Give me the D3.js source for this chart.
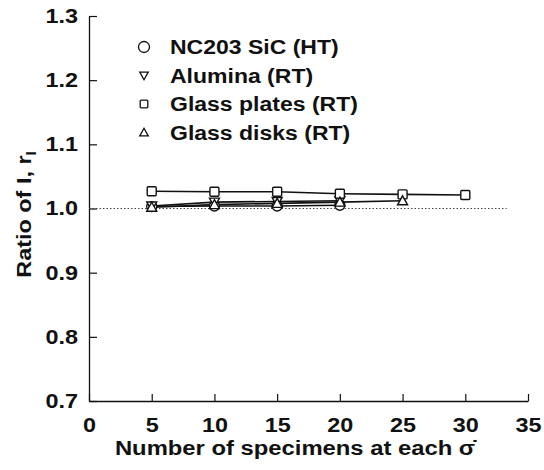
<!DOCTYPE html>
<html><head><meta charset="utf-8">
<script src="https://cdn.jsdelivr.net/npm/d3@7"></script>
<style>body{margin:0;background:#fff}svg{display:block}text{font-family:"Liberation Sans",Arial,Helvetica,sans-serif;font-weight:bold;fill:#111}</style>
</head><body><svg id="c" width="544" height="470"></svg>
<script>
const xTicks = [0,5,10,15,20,25,30,35];
const yTicks = [0.7,0.8,0.9,1.0,1.1,1.2,1.3];
const seriesNames = ["NC203 SiC (HT)","Alumina (RT)","Glass plates (RT)","Glass disks (RT)"];
const seriesSymbols = ["circle","triangleDown","square","triangleUp"];
const nc203X = [5,10,15,20];
const nc203Y = [1.003,1.004,1.004,1.005];
const aluminaX = [5,10,15,20];
const aluminaY = [1.004,1.010,1.011,1.012];
const platesX = [5,10,15,20,25,30];
const platesY = [1.027,1.026,1.026,1.023,1.022,1.021];
const disksX = [5,10,15,20,25];
const disksY = [1.002,1.006,1.008,1.010,1.012];
const refLineX = [0,33.3];
const refLineY = [1.0,1.0];

const svg = d3.select("#c");
const L=89,R=528,T=16,B=401;
const x = d3.scaleLinear().domain([0,35]).range([L,R]);
const y = d3.scaleLinear().domain([0.7,1.3]).range([B,T]);

function widen(sel, f){
  sel.each(function(){
    const len = this.getComputedTextLength();
    d3.select(this).attr("textLength", len*f).attr("lengthAdjust","spacingAndGlyphs");
  });
}

// axes
const xa = svg.append("g").attr("transform",`translate(0,${B})`)
  .call(d3.axisBottom(x).tickValues(xTicks).tickSizeInner(-7).tickSizeOuter(0).tickPadding(17).tickFormat(d3.format("d")));
const ya = svg.append("g").attr("transform",`translate(${L},0)`)
  .call(d3.axisLeft(y).tickValues(yTicks).tickSizeInner(-8).tickSizeOuter(0).tickPadding(11).tickFormat(d3.format(".1f")));
[xa,ya].forEach(a=>{
  a.selectAll("path").attr("stroke","#111").attr("stroke-width",1.3);
  a.selectAll("line").attr("stroke","#111").attr("stroke-width",1.2);
  a.selectAll("text").style("font-size","20px").attr("fill","#111");
  widen(a.selectAll("text"),1.17);
});

// reference dotted line
svg.append("path").datum(refLineX.map((v,i)=>[v,refLineY[i]]))
  .attr("d",d3.line().x(d=>x(d[0])).y(d=>y(d[1])))
  .attr("fill","none").attr("stroke","#444").attr("stroke-width",1).attr("stroke-dasharray","1.5,2");

const series = [
  {xs:nc203X, ys:nc203Y, sym:seriesSymbols[0]},
  {xs:aluminaX, ys:aluminaY, sym:seriesSymbols[1]},
  {xs:platesX, ys:platesY, sym:seriesSymbols[2]},
  {xs:disksX, ys:disksY, sym:seriesSymbols[3]}
];
function drawSym(g, sym, cx, cy, s){
  if(sym==="circle") g.append("circle").attr("cx",cx).attr("cy",cy).attr("r",5*s);
  else if(sym==="square") g.append("rect").attr("x",cx-4.5*s).attr("y",cy-4.5*s).attr("width",9*s).attr("height",9*s).attr("rx",1);
  else if(sym==="triangleUp") g.append("path").attr("d",`M${cx},${cy-5*s}L${cx+5*s},${cy+4*s}L${cx-5*s},${cy+4*s}Z`);
  else g.append("path").attr("d",`M${cx},${cy+5*s}L${cx+5*s},${cy-4*s}L${cx-5*s},${cy-4*s}Z`);
}
const line = d3.line().x(d=>x(d[0])).y(d=>y(d[1]));
series.forEach(s=>{
  const pts = s.xs.map((v,i)=>[v,s.ys[i]]);
  svg.append("path").datum(pts).attr("d",line).attr("fill","none").attr("stroke","#111").attr("stroke-width",1.6);
});
series.forEach(s=>{
  const g = svg.append("g").attr("fill","#fff").attr("stroke","#111").attr("stroke-width",1.4);
  s.xs.forEach((v,i)=>drawSym(g,s.sym,x(v),y(s.ys[i]),1));
});

// legend
const lg = svg.append("g");
seriesNames.forEach((n,i)=>{
  const cy = 47 + i*28.5;
  const g = lg.append("g").attr("fill","#fff").attr("stroke","#111").attr("stroke-width",1.3);
  drawSym(g, seriesSymbols[i], 144, cy, i===0?1.1:0.85);
  const t = lg.append("text").attr("x",170).attr("y",cy+7).style("font-size","20px").text(n);
  widen(t,1.15);
});

// axis titles
const xt = svg.append("text").attr("x",295).attr("y",455).attr("text-anchor","middle").style("font-size","20px")
  .text("Number of specimens at each σ\u0307");
widen(xt,1.19);
const yt = svg.append("text").attr("transform",`translate(31,${(T+B)/2 + 6}) rotate(-90)`).attr("text-anchor","middle").style("font-size","20px");
const t1 = yt.append("tspan").text("Ratio of I, r");
widen(t1,1.17);
yt.append("tspan").attr("dy",5).style("font-size","15px").text("I");
</script></body></html>
